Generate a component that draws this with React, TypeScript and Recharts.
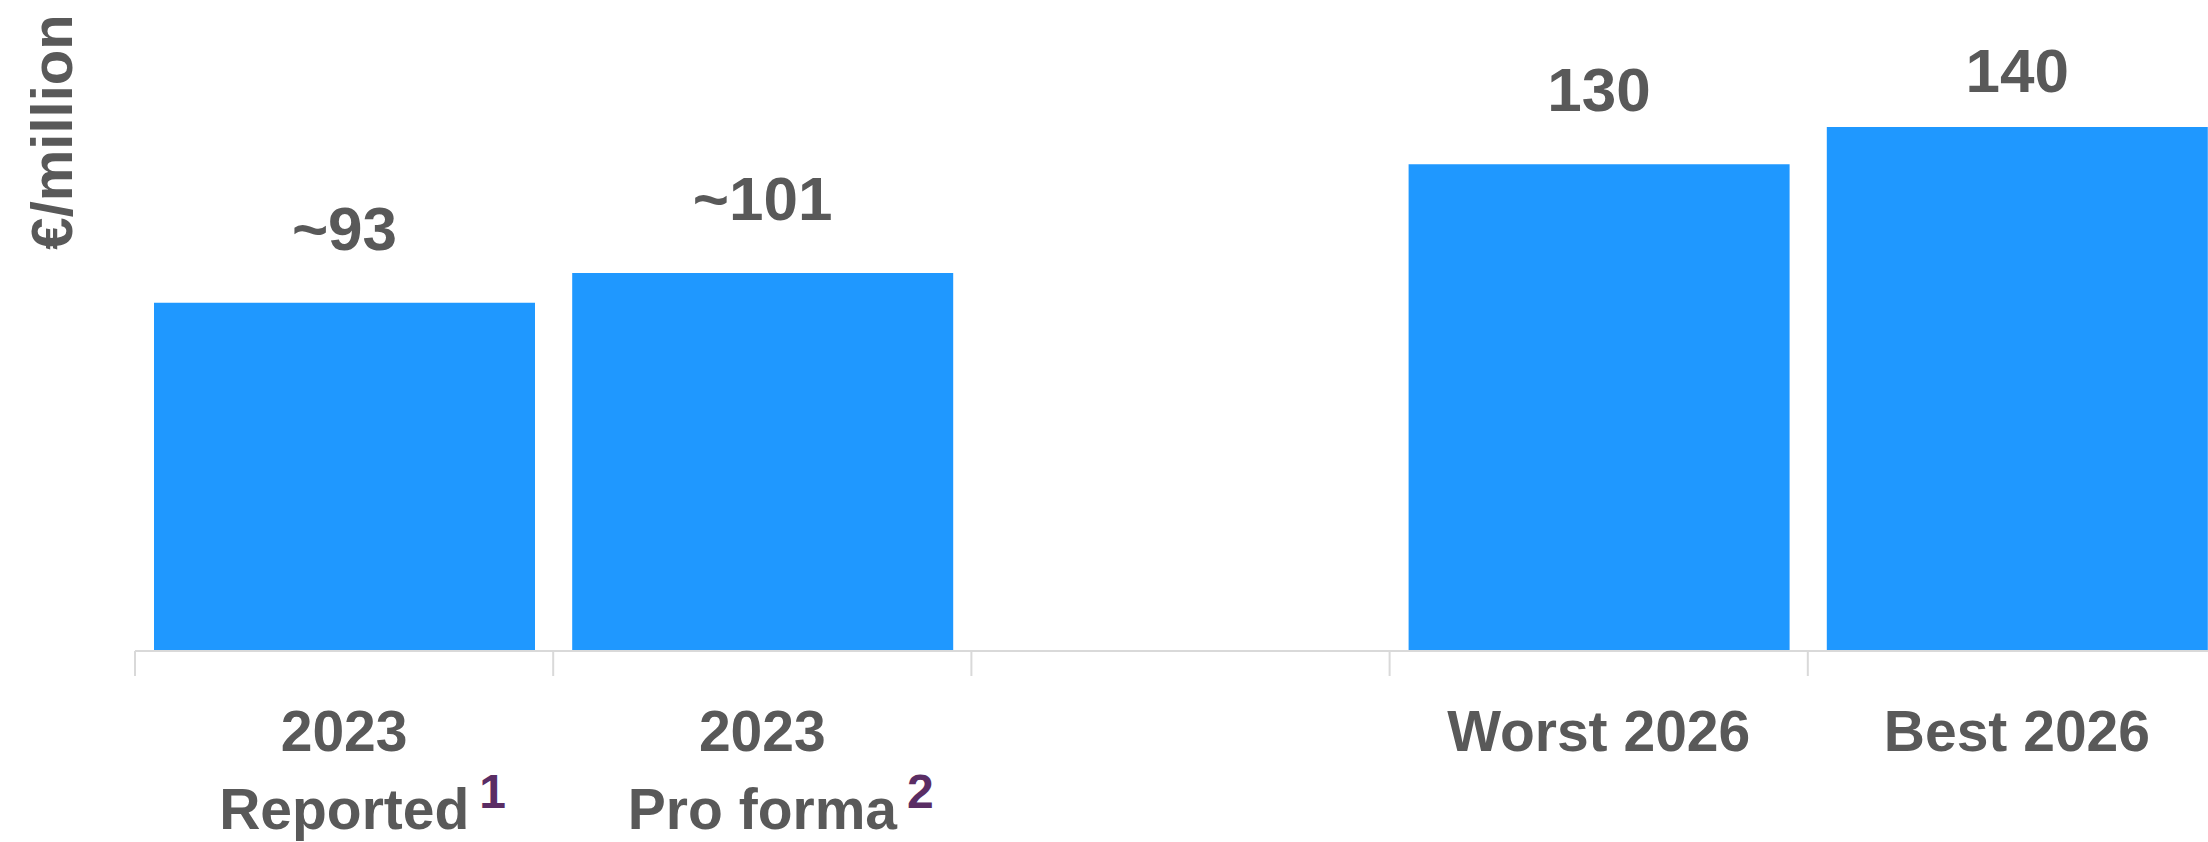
import React from 'react';
import { BarChart, Bar, XAxis, YAxis, LabelList } from 'recharts';

const categories = ['2023', '2023', '', 'Worst 2026', 'Best 2026'];
const subLabels = ['Reported', 'Pro forma', '', '', ''];
const footnotes = ['1', '2', '', '', ''];
const values: (number | null)[] = [93, 101, null, 130, 140];
const valueLabels = ['~93', '~101', '', '130', '140'];
const yDomain: [number, number] = [0, 160];
const yTitle = '€/million';

const data = categories.map((c, i) => ({
  key: `c${i}`,
  name: c,
  sub: subLabels[i],
  note: footnotes[i],
  value: values[i],
  label: valueLabels[i],
}));

const CHART_W = 2226;
const CHART_H = 842;
const Y_AXIS_W = 135;
const X_AXIS_H = 191;
const TOP = 52;
const FONT = '"Liberation Sans", Arial, Helvetica, sans-serif';
const TEXT = '#595959';
const NOTE = '#5a2d64';
const GRID = '#d9d9d9';
const BAR = '#1f98ff';

const Tick = (props: any) => {
  const { x, y, payload, index } = props;
  const i = payload && typeof payload.index === 'number' ? payload.index : index;
  const d = data[i];
  const fallbackHalf = (CHART_W - Y_AXIS_W) / categories.length / 2;
  const half = payload && typeof payload.offset === 'number' && payload.offset > 0 ? payload.offset : fallbackHalf;
  if (!d) return null;
  return (
    <g>
      <line x1={x - half} x2={x - half} y1={y} y2={y + 25} stroke={GRID} strokeWidth={2} />
      {d.name && (
        <text x={x} y={y + 100} textAnchor="middle" fill={TEXT} fontSize={57} fontWeight="bold" fontFamily={FONT}>
          {d.name}
        </text>
      )}
      {d.sub && (
        <text
          x={x + (d.note ? 18.5 : 0)}
          y={y + 178}
          textAnchor="middle"
          fill={TEXT}
          fontSize={57}
          fontWeight="bold"
          fontFamily={FONT}
        >
          <tspan>{d.sub}</tspan>
          {d.note && (
            <tspan dx={10} dy={-21} fontSize={48} fill={NOTE}>
              {d.note}
            </tspan>
          )}
        </text>
      )}
    </g>
  );
};

const ValueLabel = (props: any) => {
  const { x, y, width, value } = props;
  if (!value) return null;
  const ty = Math.max(Number(y) - 53, 92);
  return (
    <text x={Number(x) + Number(width) / 2} y={ty} textAnchor="middle" fill={TEXT} fontSize={62} fontWeight="bold" fontFamily={FONT}>
      {value}
    </text>
  );
};

const YTitle = () => (
  <text
    x={72}
    y={132}
    transform="rotate(-90, 72, 132)"
    textAnchor="middle"
    fill={TEXT}
    fontSize={58}
    fontWeight="bold"
    fontFamily={FONT}
  >
    {yTitle}
  </text>
);

export default function App() {
  return (
    <div style={{ position: 'absolute', left: 0, top: 0, width: 2208, height: 842, overflow: 'hidden', background: '#fff' }}>
      <BarChart
        width={CHART_W}
        height={CHART_H}
        data={data}
        margin={{ top: TOP, right: 0, bottom: 0, left: 0 }}
        barSize={381}
      >
        <XAxis
          dataKey="key"
          height={X_AXIS_H}
          axisLine={{ stroke: GRID, strokeWidth: 2 }}
          tickLine={false}
          tickSize={0}
          tickMargin={0}
          interval={0}
          tick={<Tick />}
        />
        <YAxis
          domain={yDomain}
          width={Y_AXIS_W}
          tick={false}
          axisLine={false}
          tickLine={false}
          label={<YTitle />}
        />
        <Bar dataKey="value" fill={BAR} isAnimationActive={false}>
          <LabelList dataKey="label" content={<ValueLabel />} />
        </Bar>
      </BarChart>
    </div>
  );
}
